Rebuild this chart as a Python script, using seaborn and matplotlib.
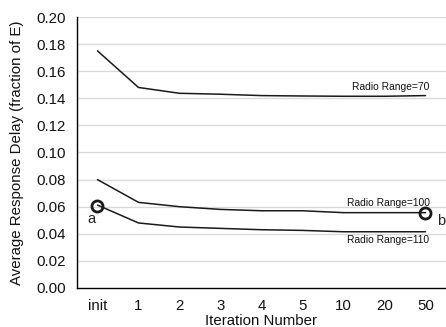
import matplotlib
matplotlib.use("Agg")
import matplotlib.pyplot as plt
import seaborn as sns
import pandas as pd
import numpy as np

iterations = ["init", "1", "2", "3", "4", "5", "10", "20", "50"]
range_70 = [0.175, 0.148, 0.1437, 0.143, 0.142, 0.1417, 0.1415, 0.1415, 0.142]
range_100 = [0.080, 0.0632, 0.060, 0.058, 0.057, 0.057, 0.0556, 0.0556, 0.0556]
range_110 = [0.0612, 0.048, 0.045, 0.044, 0.043, 0.0425, 0.0415, 0.0415, 0.0415]
series_names = ["Radio Range=70", "Radio Range=100", "Radio Range=110"]
label_y = [0.1483, 0.0627, 0.0354]
marker_a = 0.0605
marker_b = 0.0556

sns.set_style("white")
plt.rcParams['font.family'] = ['Liberation Sans', 'DejaVu Sans']

rows = []
for name, vals in zip(series_names, [range_70, range_100, range_110]):
    for i, v in enumerate(vals):
        rows.append({"pos": i, "delay": v, "series": name})
df = pd.DataFrame(rows)

fig = plt.figure(figsize=(4.46, 3.27), dpi=100)
ax = fig.add_axes([0.1726, 0.1193, 0.8274, 0.8287])

for y in np.arange(0.02, 0.201, 0.02):
    ax.axhline(y, color='#d9d9d9', linewidth=1, zorder=0)

sns.lineplot(data=df, x="pos", y="delay", hue="series", units="series",
             estimator=None, palette=['#1a1a1a'] * 3, linewidth=1.1,
             legend=False, ax=ax)

# highlighted points a and b
ax.plot([0], [marker_a], marker='o', markersize=8, markerfacecolor='none',
        markeredgecolor='#1a1a1a', markeredgewidth=2, linestyle='none', zorder=5)
ax.plot([len(iterations) - 1], [marker_b], marker='o', markersize=8, markerfacecolor='none',
        markeredgecolor='#1a1a1a', markeredgewidth=2, linestyle='none', zorder=5)
ax.annotate("a", (0, marker_a), xytext=(-4, -9), textcoords='offset points',
            ha='center', va='center', fontsize=10.5, color='#222222')
ax.annotate("b", (len(iterations) - 1, marker_b), xytext=(11, -6), textcoords='offset points',
            ha='center', va='center', fontsize=10.5, color='#222222')

for name, ly in zip(series_names, label_y):
    ax.text(8.1, ly, name, ha='right', va='center', fontsize=7.4, color='#111111')

ax.set_ylim(0, 0.2)
ax.set_yticks(np.arange(0, 0.201, 0.02))
ax.set_yticklabels([f"{v:.2f}" for v in np.arange(0, 0.201, 0.02)])
ax.set_xlim(-0.5, 8.41)
ax.set_xticks(range(len(iterations)))
ax.set_xticklabels(iterations)
ax.set_xticks(np.arange(-0.5, len(iterations), 1.0), minor=True)
ax.tick_params(axis='x', which='major', length=0, labelsize=10.8, pad=8, colors='#111111')
ax.tick_params(axis='x', which='minor', length=4, width=1, direction='out', color='black')
ax.tick_params(axis='y', length=4, width=1, direction='out', labelsize=10.8, pad=4,
               color='black', labelcolor='#111111')

sns.despine(ax=ax, top=True, right=True)
for side in ['left', 'bottom']:
    ax.spines[side].set_color('black')
    ax.spines[side].set_linewidth(1)

ax.set_xlabel("Iteration Number", fontsize=10.8, labelpad=0.5, color='#111111')
ax.set_ylabel("Average Response Delay (fraction of E)", fontsize=10.8, labelpad=9, color='#111111')

fig.savefig("out.png", dpi=100)
